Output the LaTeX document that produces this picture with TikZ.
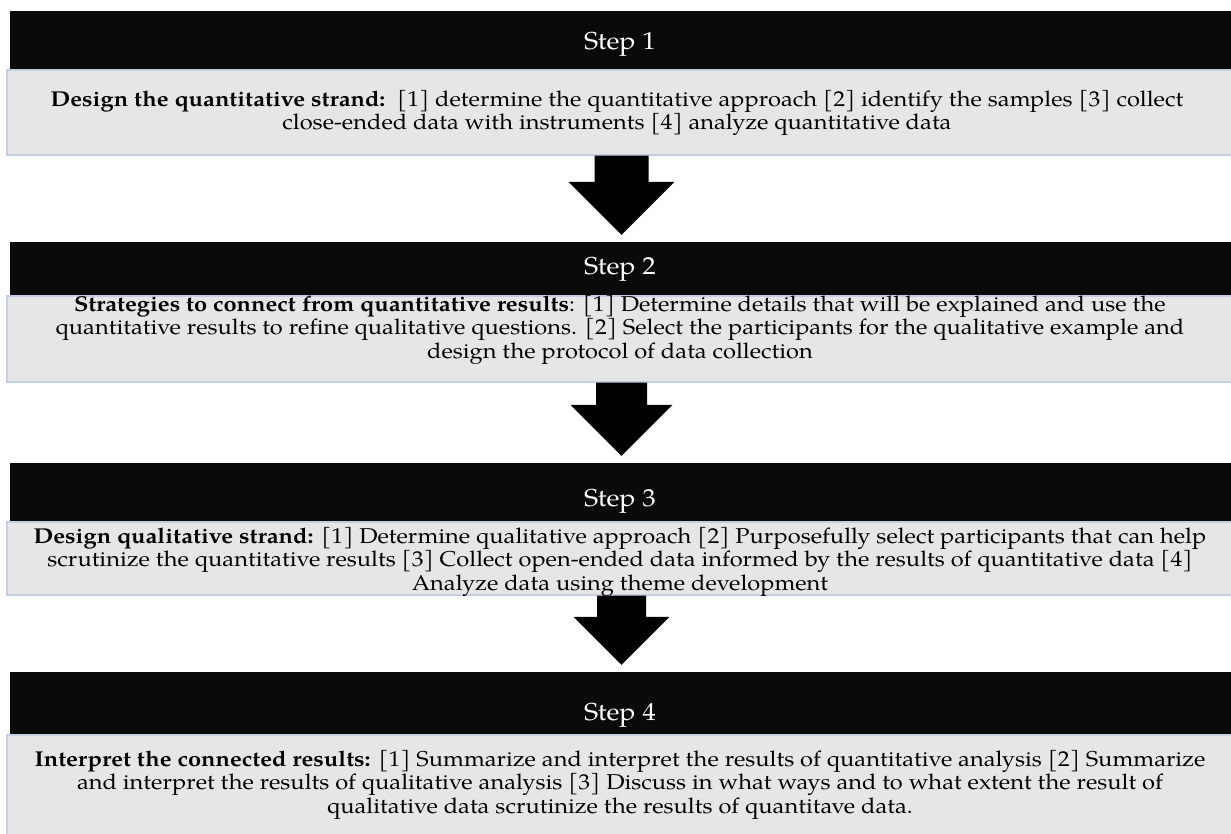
\documentclass[tikz,border=0pt]{standalone}
\usepackage{fontspec}
\setmainfont[FakeStretch=1.1]{TeX Gyre Pagella}
\usetikzlibrary{calc}
\definecolor{hdrc}{HTML}{0A0A0A}
\definecolor{bodyc}{HTML}{E6E6E6}
\definecolor{borderc}{HTML}{C5CDE2}
\tikzset{
  hdrbox/.style={rectangle, fill=hdrc, draw=none, minimum width=1223pt, inner sep=0pt},
  bodybox/.style={rectangle, fill=bodyc, draw=borderc, line width=1.3pt, minimum width=1226pt, inner sep=0pt},
  steplabel/.style={text=white, inner sep=0pt, font=\fontsize{24.5}{28}\selectfont},
  bodytext/.style={text=black, inner sep=0pt, align=center, font=\fontsize{21.5}{23.5}\selectfont},
  arrowc/.style={fill=black}
}
\newcommand\flowarrow[6]{%
  \fill[arrowc] let \p1=(#1.south), \p2=(#2.north) in
    (\x2-#4pt,\y1) -- (\x2+#4pt,\y1) -- (\x2+#4pt,\y2+#3pt+#6pt) -- (\x2+#5pt,\y2+#3pt+#6pt)
    -- (\x2,\y2+#3pt) -- (\x2-#5pt,\y2+#3pt+#6pt) -- (\x2-#4pt,\y2+#3pt+#6pt) -- cycle;}
\begin{document}
\begin{tikzpicture}[x=1pt,y=-1pt]
\useasboundingbox (0,0) rectangle (1231,834);
% Step 1
\node[hdrbox, minimum height=59pt] (h1) at (621.5,40.5) {};
\node[bodybox, minimum height=85pt] (b1) at (620,112.5) {};
\node[steplabel, anchor=base] (s1) at (620,50) {Step 1};
\node[bodytext, anchor=north] (t1) at (617,90) {\textbf{Design the quantitative strand:}\ \ [1] determine the quantitative approach [2] identify the samples [3] collect\\close-ended data with instruments [4] analyze quantitative data};
% Step 2
\node[hdrbox, minimum height=54pt] (h2) at (621.5,269) {};
\node[bodybox, minimum height=86pt] (b2) at (620,339) {};
\node[steplabel, anchor=base] (s2) at (620,275) {Step 2};
\node[bodytext, anchor=north] (t2) at (620,295) {\textbf{Strategies to connect from quantitative results}: [1] Determine details that will be explained and use the\\quantitative results to refine qualitative questions. [2] Select the participants for the qualitative example and\\design the protocol of data collection};
% Step 3
\node[hdrbox, minimum height=59pt] (h3) at (621.5,492.5) {};
\node[bodybox, minimum height=73pt] (b3) at (620,558.5) {};
\node[steplabel, anchor=base] (s3) at (620,506) {Step 3};
% Step 4
\node[hdrbox, minimum height=63pt] (h4) at (621.5,703.5) {};
\node[bodybox, minimum height=101pt] (b4) at (620,785.5) {};
\node[steplabel, anchor=base] (s4) at (620,720) {Step 4};
\node[bodytext, anchor=north] (t4) at (620,750) {\textbf{Interpret the connected results:} [1] Summarize and interpret the results of quantitative analysis [2] Summarize\\and interpret the results of qualitative analysis [3] Discuss in what ways and to what extent the result of\\qualitative data scrutinize the results of quantitave data.};
% arrows
\flowarrow{b1}{h2}{7}{27}{53}{53}
\flowarrow{b2}{h3}{7}{25.5}{51}{51}
\flowarrow{b3}{h4}{7}{24.5}{48}{48}
% step 3 text drawn last (overlaps box edge and arrow)
\node[bodytext, anchor=north] (t3) at (620,527) {\textbf{Design qualitative strand:} [1] Determine qualitative approach [2] Purposefully select participants that can help\\scrutinize the quantitative results [3] Collect open-ended data informed by the results of quantitative data [4]\\Analyze data using theme development};
\end{tikzpicture}
\end{document}
